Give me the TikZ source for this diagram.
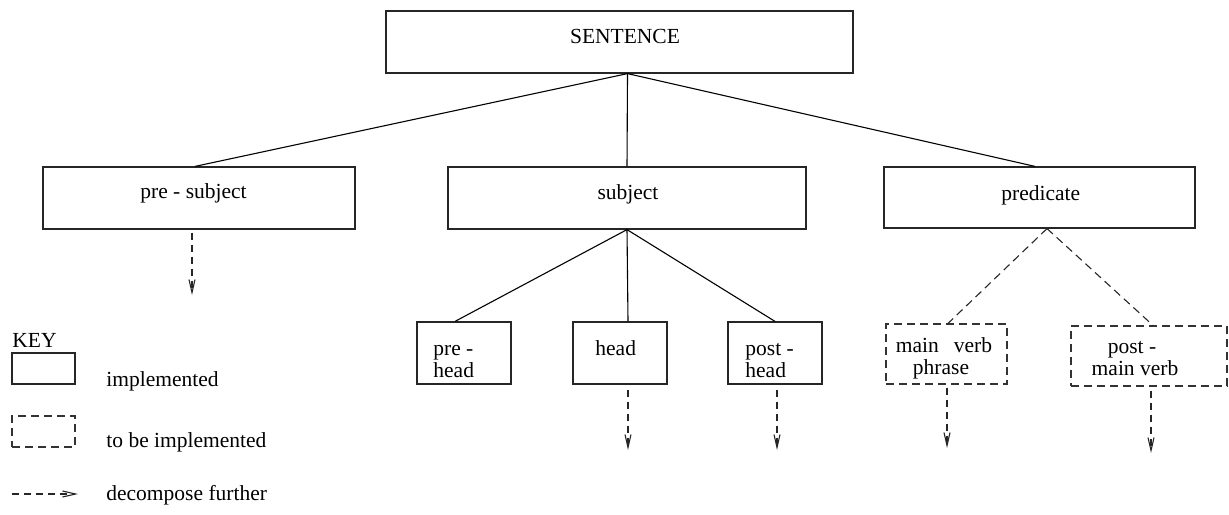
\documentclass[tikz,border=0pt]{standalone}
\usepackage{fontspec}
\setmainfont{Liberation Serif}
\usetikzlibrary{arrows.meta,fit}
\begin{document}
\begin{tikzpicture}[x=0.5pt,y=-0.5pt,
  box/.style={draw=black!85, line width=0.6pt, inner sep=0pt, fit={#1}},
  tbox/.style={draw=black!80, line width=0.6pt, dash pattern=on 4pt off 2.5pt, inner sep=0pt, fit={#1}},
  txt/.style={inner sep=0pt, font=\fontsize{10.75pt}{11pt}\selectfont},
  link/.style={line width=0.55pt},
  tlink/.style={line width=0.55pt, draw=black!85, dash pattern=on 4pt off 2.5pt},
  decomp/.style={line width=0.55pt, draw=black!85, dash pattern=on 3.5pt off 2.5pt, -{Straight Barb[length=6.5pt,width=3pt]}},
]
\useasboundingbox (0,0) rectangle (1229,514);

% boxes
\node[box={(386,11) (853,73)}] (sentence) {};
\node[box={(43,167) (355,229)}] (presubj) {};
\node[box={(448,167) (806,229)}] (subj) {};
\node[box={(884,167) (1195,228)}] (pred) {};
\node[box={(417,322) (511,384)}] (prehead) {};
\node[box={(573,322) (667,384)}] (head) {};
\node[box={(728,322) (822,384)}] (posthead) {};
\node[tbox={(886,324) (1007,384)}] (mainverb) {};
\node[tbox={(1071,326) (1227,386)}] (postmain) {};

% texts
\node[txt, anchor=base] (tsent) at (625,43) {SENTENCE};
\node[txt, anchor=base west] (tpresubj) at (140,198) {pre - subject};
\node[txt, anchor=base] (tsubj) at (628,199) {subject};
\node[txt, anchor=base west] (tpred) at (1001,200) {predicate};
\node[txt, anchor=base west] (tprehead1) at (433,355) {pre -};
\node[txt, anchor=base west] (tprehead2) at (433,377) {head};
\node[txt, anchor=base west] (thead) at (595,355) {head};
\node[txt, anchor=base west] (tposthead1) at (745,355) {post -};
\node[txt, anchor=base west] (tposthead2) at (745,377) {head};
\node[txt, anchor=base] (tmain1) at (944,352) {main\hspace{0.7em}verb};
\node[txt, anchor=base] (tmain2) at (941,374) {phrase};
\node[txt, anchor=base] (tpost1) at (1132,353) {post -};
\node[txt, anchor=base] (tpost2) at (1135,375) {main verb};

% tree connectors
\draw[link] ([xshift=4pt]sentence.south) -- ([xshift=-2pt]presubj.north);
\draw[link] ([xshift=4pt]sentence.south) -- (subj.north);
\draw[link] ([xshift=4pt]sentence.south) -- ([xshift=-2.25pt]pred.north);
\draw[link] (subj.south) -- ([xshift=-4.5pt]prehead.north);
\draw[link] (subj.south) -- ([xshift=4pt]head.north);
\draw[link] (subj.south) -- (posthead.north);
\draw[tlink] ([xshift=3.75pt]pred.south) -- ([xshift=0.75pt]mainverb.north);
\draw[tlink] ([xshift=3.75pt]pred.south) -- ([xshift=2pt]postmain.north);

% decompose-further arrows
\coordinate (a1) at (192,295);
\coordinate (a2) at (628,450);
\coordinate (a3) at (777,450);
\coordinate (a4) at (947,448);
\coordinate (a5) at (1151,453);
\draw[decomp] ([xshift=-3.5pt,yshift=-1.5pt]presubj.south) -- (a1);
\draw[decomp] ([xshift=4pt,yshift=-2.5pt]head.south) -- (a2);
\draw[decomp] ([xshift=1pt,yshift=-2.5pt]posthead.south) -- (a3);
\draw[decomp] ([xshift=0.25pt,yshift=-1.5pt]mainverb.south) -- (a4);
\draw[decomp] ([xshift=1pt,yshift=-2pt]postmain.south) -- (a5);

% key
\node[txt, anchor=base west] (keylabel) at (12,347) {KEY};
\node[box={(12,353) (75,384)}] (keysolid) {};
\node[tbox={(12,416) (75,447)}] (keydash) {};
\coordinate (ka) at (12,494);
\coordinate (kb) at (78,494);
\draw[decomp] (ka) -- (kb);
\node[txt, anchor=base west] (kt1) at (106,386) {implemented};
\node[txt, anchor=base west] (kt2) at (106,447) {to be implemented};
\node[txt, anchor=base west] (kt3) at (106,500) {decompose further};
\end{tikzpicture}
\end{document}
